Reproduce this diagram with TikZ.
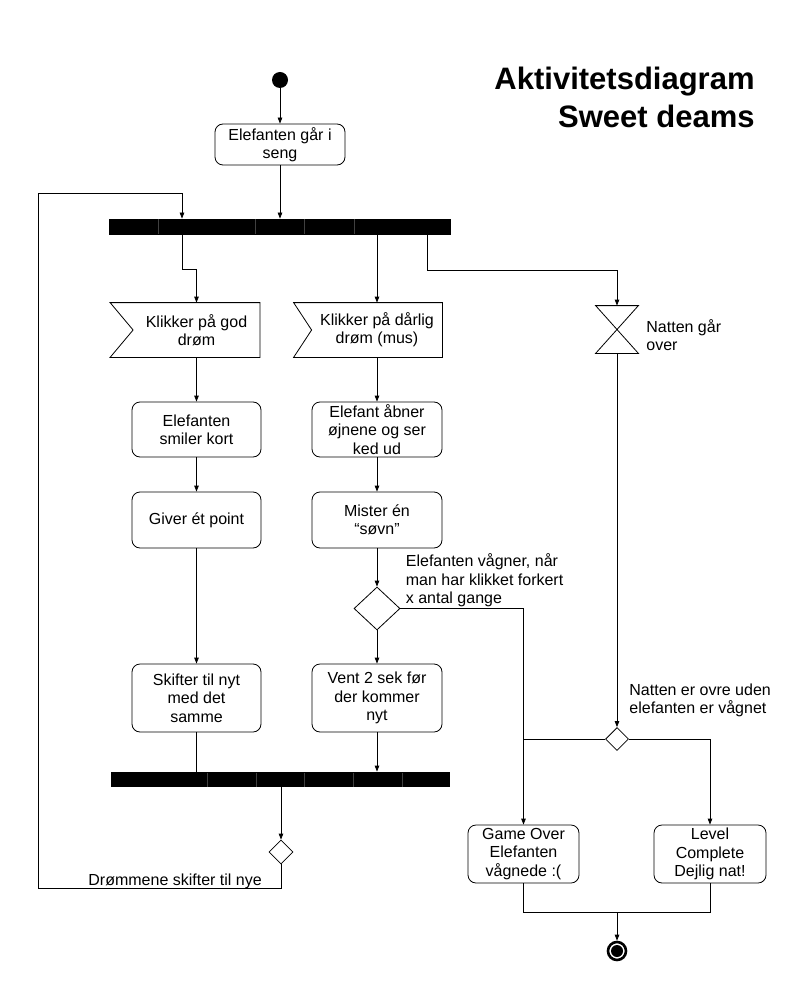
\documentclass[tikz,border=0pt]{standalone}
\usepackage{fontspec}
\setmainfont{Liberation Sans}
\usetikzlibrary{arrows.meta,shapes.geometric,calc}
\begin{document}
\begin{tikzpicture}[x=1pt,y=-1pt,
  line width=0.8pt,
  every node/.style={font=\fontsize{16}{18.4}\selectfont},
  arr/.style={-{Triangle[length=6pt,width=4.5pt]}},
  act/.style={draw,rounded corners=8pt,align=center,inner sep=0pt},
  bar/.style={fill=black,draw=none,inner sep=0pt},
  sep/.style={black!75,line width=0.5pt},
  dec/.style={draw,diamond,inner sep=0pt},
  lbl/.style={align=left,inner sep=0pt},
  sig/.style={inner sep=0pt,align=center,minimum height=54pt}
]
\useasboundingbox (0,0) rectangle (791,981);

% title
\node[font=\bfseries\fontsize{31}{38}\selectfont,align=right,inner sep=0pt,anchor=north east] (title) at (755,66.5) {Aktivitetsdiagram\\Sweet deams};

% start
\node[circle,fill=black,inner sep=0pt,minimum size=16pt] (start) at (280,80) {};
\node[act,minimum width=130pt,minimum height=41pt] (b0) at (280,144.5) {Elefanten går i\\seng};

% fork bar
\node[bar,minimum width=342pt,minimum height=16pt] (fork) at (280,227) {};
\foreach \x in {158,255,304,354} \draw[sep] (\x,219.5) -- (\x,234.5);

% signals
\node[sig,minimum width=126pt] (s1) at (196.5,330) {Klikker på god\\drøm};
\draw ($(s1.north west)+(-23,0)$) -- (s1.north east) -- (s1.south east) -- ($(s1.south west)+(-23,0)$) -- (s1.west) -- cycle;
\node[sig,minimum width=130pt] (s2) at (377,330) {Klikker på dårlig\\drøm (mus)};
\draw ($(s2.north west)+(-18,0)$) -- (s2.north east) -- (s2.south east) -- ($(s2.south west)+(-18,0)$) -- (s2.west) -- cycle;

% hourglass
\node[inner sep=0pt,minimum width=42pt,minimum height=47pt] (hg) at (617,329.5) {};
\draw (hg.north west) -- (hg.north east) -- (hg.south west) -- (hg.south east) -- cycle;
\node[lbl,anchor=west] (hgl) at (646,335) {Natten går\\over};

% activities
\node[act,minimum width=129pt,minimum height=55pt] (b1) at (196.5,429.5) {Elefanten\\smiler kort};
\node[act,minimum width=130pt,minimum height=55pt] (b2) at (377,429.5) {Elefant åbner\\øjnene og ser\\ked ud};
\node[act,minimum width=129pt,minimum height=56pt] (b3) at (196.5,520) {Giver ét point};
\node[act,minimum width=130pt,minimum height=56pt] (b4) at (377,520) {Mister én\\“søvn”};
\node[dec,minimum width=46pt,minimum height=43pt] (d1) at (377,608.5) {};
\node[lbl,anchor=west] (d1l) at (405.5,580.5) {Elefanten vågner, når\\man har klikket forkert\\x antal gange};
\node[act,minimum width=129pt,minimum height=68pt] (b5) at (196.5,698) {Skifter til nyt\\med det\\samme};
\node[act,minimum width=130pt,minimum height=68pt] (b6) at (377,698) {Vent 2 sek før\\der kommer\\nyt};

% join bar
\node[bar,minimum width=339pt,minimum height=15pt] (join) at (280.5,779.5) {};
\foreach \x in {207,256,304,353,402} \draw[sep] (\x,772.5) -- (\x,786.5);
\node[dec,minimum width=24pt,minimum height=24pt] (d3) at (281,852) {};
\node[anchor=base west,inner sep=0pt] (d3l) at (88,885) {Drømmene skifter til nye};

% right side
\node[dec,minimum width=23pt,minimum height=23pt] (d2) at (617,739) {};
\node[lbl,anchor=west] (d2l) at (629,700.5) {Natten er ovre uden\\elefanten er vågnet};
\node[act,minimum width=111pt,minimum height=58pt] (b7) at (523.5,854) {Game Over\\Elefanten\\vågnede :(};
\node[act,minimum width=112pt,minimum height=58pt] (b8) at (710,854) {Level\\Complete\\Dejlig nat!};
\node[circle,draw,line width=2.6pt,fill=white,inner sep=0pt,minimum size=18pt] (end) at (617,951) {};
\fill (end.center) circle (6pt);

% connectors
\draw[arr] (start) -- (b0);
\draw[arr] (b0) -- (b0.south |- fork.north);
\draw[arr] ([xshift=-98pt]fork.south) -- ++(0,34) -| (s1.north);
\draw[arr] (fork.south -| s2.north) -- (s2.north);
\draw[arr] ([xshift=147pt]fork.south) -- ++(0,35) -| (hg.north);
\draw[arr] (s1) -- (b1);
\draw[arr] (s2) -- (b2);
\draw[arr] (b1) -- (b3);
\draw[arr] (b3) -- (b5);
\draw[arr] (b2) -- (b4);
\draw[arr] (b4) -- (d1);
\draw[arr] (d1) -- (b6);
\draw[arr] (d1.east) -| (b7.north);
\draw (b5.south) -- (b5.south |- join.north);
\draw[arr] (b6.south) -- (b6.south |- join.north);
\draw[arr] (join.south -| d3.north) -- (d3.north);
\coordinate (lpb) at (38,888);
\coordinate (lpt) at (38,193);
\draw[arr] (d3.south) |- (lpb) -- (lpt) -| ([xshift=-98pt]fork.north);
\draw[arr] (hg) -- (d2);
\draw (d2.west) -- (d2.west -| b7.north);
\draw[arr] (d2.east) -| (b8.north);
\coordinate (mg) at (617,912);
\draw (b7.south) |- (mg) -| (b8.south);
\draw[arr] (mg) -- (end);
\end{tikzpicture}
\end{document}
